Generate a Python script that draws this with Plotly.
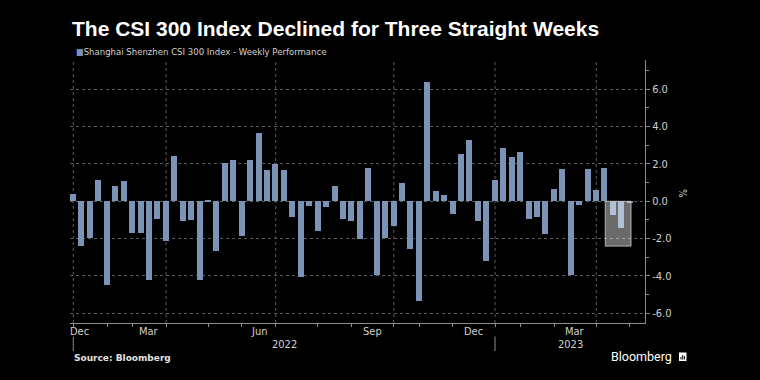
import plotly.graph_objects as go

# ---------------- data ----------------
weeks = [
    "2021-12-31",
    "2022-01-07", "2022-01-14", "2022-01-21", "2022-01-28",
    "2022-02-11", "2022-02-18", "2022-02-25",
    "2022-03-04", "2022-03-11", "2022-03-18", "2022-03-25",
    "2022-04-01", "2022-04-08", "2022-04-15", "2022-04-22", "2022-04-29",
    "2022-05-06", "2022-05-13", "2022-05-20", "2022-05-27",
    "2022-06-02", "2022-06-10", "2022-06-17", "2022-06-24",
    "2022-07-01", "2022-07-08", "2022-07-15", "2022-07-22", "2022-07-29",
    "2022-08-05", "2022-08-12", "2022-08-19", "2022-08-26",
    "2022-09-02", "2022-09-09", "2022-09-16", "2022-09-23", "2022-09-30",
    "2022-10-14", "2022-10-21", "2022-10-28",
    "2022-11-04", "2022-11-11", "2022-11-18", "2022-11-25",
    "2022-12-02", "2022-12-09", "2022-12-16", "2022-12-23", "2022-12-30",
    "2023-01-06", "2023-01-13", "2023-01-20",
    "2023-02-03", "2023-02-10", "2023-02-17", "2023-02-24",
    "2023-03-03", "2023-03-10", "2023-03-17", "2023-03-24", "2023-03-31",
    "2023-04-07", "2023-04-14", "2023-04-21", "2023-04-28",
]
weekly_perf = [
    0.41,
    -2.38, -1.98, 1.12, -4.50,
    0.82, 1.09, -1.68,
    -1.68, -4.21, -0.95, -2.14,
    2.41, -1.05, -0.98, -4.20, 0.06,
    -2.68, 2.04, 2.23, -1.86,
    2.21, 3.68, 1.66, 1.98,
    1.66, -0.82, -4.04, -0.23, -1.61,
    -0.30, 0.82, -0.95, -1.04,
    -2.02, 1.77, -3.95, -1.95, -1.30,
    0.98, -2.57, -5.36,
    6.39, 0.57, 0.36, -0.66,
    2.54, 3.29, -1.07, -3.18, 1.16,
    2.84, 2.36, 2.64,
    -0.95, -0.82, -1.75, 0.66,
    1.71, -3.93, -0.20, 1.73, 0.60,
    1.79, -0.75, -1.45, -0.07,
]
y_ticks = [-6, -4, -2, 0, 2, 4, 6]
y_minor_ticks = [-5, -3, -1, 1, 3, 5, 7]
month_names = {3: "Mar", 6: "Jun", 9: "Sep", 12: "Dec"}
highlight_n = 3          # last three straight weekly declines
highlight_floor = -2.4   # bottom of the highlight box

title_text = "The CSI 300 Index Declined for Three Straight Weeks"
series_name = "Shanghai Shenzhen CSI 300 Index - Weekly Performance"
source_text = "Source: Bloomberg"

# ---------------- layout constants ----------------
W, H = 760, 380
L, R, T, B = 70, 115, 60, 57
PW, PH = W - L - R, H - T - B
X_RANGE = [-0.36, 67.81]
Y_RANGE = [-6.52, 7.57]

BG = "#000000"
BAR = "#7b93b7"
GRID = "#5c5c5c"
AXIS = "#8c8c8c"
TXT = "#d0d0d0"
FONT = "DejaVu Sans Condensed, Liberation Sans Narrow, Liberation Sans, sans-serif"


def px(xp):
    return (xp - L) / PW


def py(yp):
    return (H - B - yp) / PH


x = list(range(len(weeks)))

# month boundary ticks: at the last week of each month
month_end_idx = []
month_of = []
for i, w in enumerate(weeks):
    if i == len(weeks) - 1 or w[:7] != weeks[i + 1][:7]:
        month_end_idx.append(i + 0.03)
        month_of.append((int(w[:4]), int(w[5:7])))

fig = go.Figure()
fig.add_trace(go.Bar(
    x=x, y=weekly_perf, marker=dict(color=BAR, line=dict(width=0)),
    width=0.71, showlegend=False, name=series_name,
))

shapes = []
annotations = []

# vertical dotted gridlines at quarter boundaries, month labels, year dividers
for k, (yr, mo) in enumerate(month_of):
    pos = month_end_idx[k]
    if mo in (3, 6, 9, 12) and k < len(month_of) - 1:
        shapes.append(dict(type="line", xref="x", yref="paper", x0=pos, x1=pos,
                           y0=0, y1=1, line=dict(color=GRID, width=1, dash="dot"),
                           layer="below"))
    if mo in month_names:
        if k == 0:
            cx = 0.75
        else:
            cx = (month_end_idx[k - 1] + pos) / 2
        annotations.append(dict(x=cx, y=py(331), xref="x", yref="paper",
                                text=month_names[mo], showarrow=False,
                                xanchor="center", yanchor="middle",
                                font=dict(size=11, color=TXT, family=FONT)))
    if mo == 12 and k < len(month_of) - 1:
        shapes.append(dict(type="line", xref="x", yref="paper", x0=pos, x1=pos,
                           y0=py(336.5), y1=py(351), line=dict(color=AXIS, width=1)))

year_bounds = [month_end_idx[k] for k, (yr, mo) in enumerate(month_of)
               if mo == 12 and k < len(month_of) - 1] + [X_RANGE[1]]
years = sorted({int(w[:4]) for w in weeks if w[:4] != "2021"})
for j, yr in enumerate(years):
    cx = (year_bounds[j] + year_bounds[j + 1]) / 2
    annotations.append(dict(x=cx, y=py(344), xref="x", yref="paper", text=str(yr),
                            showarrow=False, xanchor="center", yanchor="middle",
                            font=dict(size=11, color=TXT, family=FONT)))

# highlight box over the last three weeks
shapes.append(dict(type="rect", xref="x", yref="y",
                   x0=len(weeks) - highlight_n - 0.9, x1=len(weeks) - 1 + 0.15,
                   y0=0, y1=highlight_floor,
                   fillcolor="rgba(255,255,255,0.42)",
                   line=dict(color="rgba(190,190,190,0.9)", width=1), layer="above"))

# title, legend, source
annotations.append(dict(x=px(70), y=py(28), xref="paper", yref="paper",
                        text=f"<b>{title_text}</b>", showarrow=False,
                        xanchor="left", yanchor="middle",
                        font=dict(size=21, color="#ffffff",
                                  family="Liberation Sans, Arial, sans-serif")))
annotations.append(dict(x=px(74), y=py(51.5), xref="paper", yref="paper",
                        text=f"<span style='color:{BAR};font-size:9px'>■</span>{series_name}",
                        showarrow=False, xanchor="left", yanchor="middle",
                        font=dict(size=9.5, color=TXT, family=FONT)))
annotations.append(dict(x=px(72), y=py(358), xref="paper", yref="paper",
                        text=f"<b>{source_text}</b>", showarrow=False,
                        xanchor="left", yanchor="middle",
                        font=dict(size=9, color="#e0e0e0",
                                  family="DejaVu Sans, sans-serif")))
annotations.append(dict(x=px(674), y=py(356.5), xref="paper", yref="paper",
                        text="Bloomberg", showarrow=False,
                        xanchor="right", yanchor="middle",
                        font=dict(size=12.5, color="#ffffff",
                                  family="Roboto, Liberation Sans, sans-serif")))
# % unit label
annotations.append(dict(x=px(683), y=py(193), xref="paper", yref="paper",
                        text="%", showarrow=False, textangle=90,
                        xanchor="center", yanchor="middle",
                        font=dict(size=10, color=TXT, family=FONT)))

# Bloomberg small icon
shapes.append(dict(type="rect", xref="paper", yref="paper",
                   x0=px(679), x1=px(686.5), y0=py(361), y1=py(352.5),
                   fillcolor="#ffffff", line=dict(width=0)))
for bx, top in [(681, 357), (682.7, 355), (684.4, 356)]:
    shapes.append(dict(type="line", xref="paper", yref="paper",
                       x0=px(bx), x1=px(bx), y0=py(359.5), y1=py(top),
                       line=dict(color="#000000", width=1)))

fig.update_layout(
    width=W, height=H,
    margin=dict(l=L, r=R, t=T, b=B, pad=0),
    paper_bgcolor=BG, plot_bgcolor=BG,
    showlegend=False,
    bargap=0,
    shapes=shapes, annotations=annotations,
    xaxis=dict(range=X_RANGE, tickmode="array", tickvals=month_end_idx,
               ticktext=[""] * len(month_end_idx), ticks="outside", ticklen=3,
               tickcolor=AXIS, showgrid=False, zeroline=False,
               showline=True, linecolor=AXIS, linewidth=1, fixedrange=True),
    yaxis=dict(range=Y_RANGE, side="right", tickmode="array", tickvals=y_ticks,
               ticktext=[f"{v:.1f}" for v in y_ticks], ticks="outside", ticklen=4,
               tickcolor=AXIS, showgrid=True, gridcolor=GRID, griddash="dot",
               gridwidth=1, zeroline=False, showline=True, linecolor=AXIS,
               linewidth=1, tickfont=dict(size=11, color=TXT, family=FONT),
               minor=dict(tickmode="array", tickvals=y_minor_ticks, ticks="outside",
                          ticklen=3, tickcolor=AXIS, showgrid=False),
               fixedrange=True),
)

fig.write_html(
    "out.html",
    config={"displayModeBar": False},
    post_script="document.body.style.margin='0';document.body.style.background='#000';",
)
